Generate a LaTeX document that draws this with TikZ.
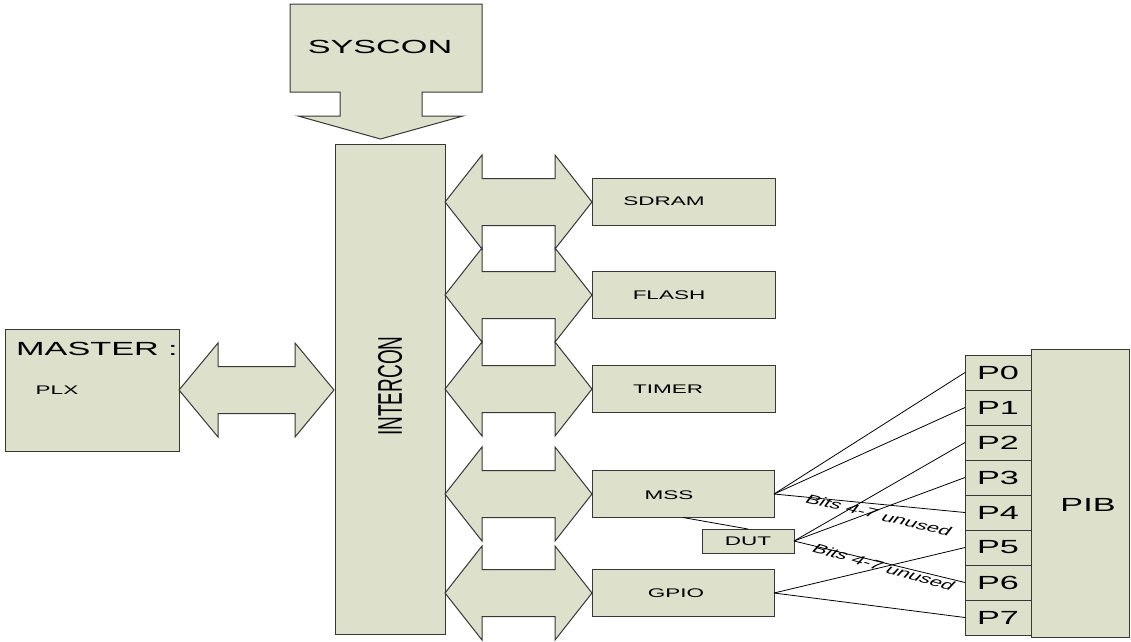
\documentclass[tikz,border=0pt]{standalone}
\usepackage{fontspec}
\usepackage{graphicx}
\setmainfont{Liberation Sans}
\newfontfamily\wf[FakeStretch=1.8]{Liberation Sans}
\definecolor{boxfill}{RGB}{221,224,203}
\definecolor{boxline}{RGB}{55,55,55}
\newcommand\dblArrowShape[4]{%
  \draw[box] (#1,#3) -- (#1+#4,#3-47) -- (#1+#4,#3-23.5) -- (#2-#4,#3-23.5) -- (#2-#4,#3-47)
    -- (#2,#3) -- (#2-#4,#3+47) -- (#2-#4,#3+23.5) -- (#1+#4,#3+23.5) -- (#1+#4,#3+47) -- cycle;}
\tikzset{
  box/.style={draw=boxline, fill=boxfill, line width=1pt, inner sep=0pt, outer sep=0pt, rectangle},
  big/.style={font=\wf\fontsize{19}{22}\selectfont, inner sep=0pt},
  small/.style={font=\wf\fontsize{12.5}{15}\selectfont, inner sep=0pt},
  wire/.style={black, line width=0.8pt},
}
\begin{document}
\begin{tikzpicture}[x=1pt,y=-1pt]
\useasboundingbox (0,0) rectangle (1131,641);

% SYSCON callout
\draw[box] (290,4) -- (482,4) -- (482,92) -- (422,92) -- (422,116) -- (463,116) -- (380.5,139)
  -- (298,116) -- (340,116) -- (340,92) -- (290,92) -- cycle;
\node[big] (syscon) at (380,47) {SYSCON};

% INTERCON
\node[box, minimum width=110, minimum height=490] (intercon) at (390,389) {};
\node[inner sep=0pt, font=\fontsize{19}{22}\selectfont] (intert) at (390,386)
  {\scalebox{1.8}[1]{\rotatebox{90}{INTERCON}}};

% MASTER
\node[box, minimum width=174, minimum height=122] (master) at (92,390) {};
\node[big] (mastert) at (97,349) {MASTER :};
\node[small] (plx) at (57,390) {PLX};
\dblArrowShape{179}{334}{390}{39}

% bus arrows
\dblArrowShape{445}{592}{202}{37}
\dblArrowShape{445}{592}{295}{37}
\dblArrowShape{445}{592}{389}{37}
\dblArrowShape{445}{592}{494}{37}
\dblArrowShape{445}{592}{593}{37}

% slaves
\node[box, minimum width=183, minimum height=47] (sdram) at (683.5,202) {};
\node[small] (sdramt) at (664,201) {SDRAM};
\node[box, minimum width=183, minimum height=47] (flash) at (683.5,295) {};
\node[small] (flasht) at (669,295) {FLASH};
\node[box, minimum width=183, minimum height=47] (timer) at (683.5,389) {};
\node[small] (timert) at (668,389) {TIMER};
\node[box, minimum width=182, minimum height=47] (mss) at (683,494) {};
\node[small] (msst) at (669,495) {MSS};
\node[box, minimum width=182, minimum height=47] (gpio) at (683,593) {};
\node[small] (gpiot) at (676,593) {GPIO};
\node[box, small, minimum width=92, minimum height=24] (dut) at (748,541) {DUT};

% PIB
\node[box, minimum width=98, minimum height=288] (pib) at (1080,493) {};
\node[big] (pibt) at (1088,505) {PIB};
\foreach \i in {0,...,7}
  \node[box, big, minimum width=66, minimum height=35] (p\i) at (998,372.5+35*\i) {P\i};

% wires
\draw[wire] (mss.east) -- (p0.west);
\draw[wire] (mss.east) -- (p1.west);
\draw[wire] (mss.east) -- (p4.west);
\draw[wire] (mss.south) -- (dut.north);
\draw[wire] (dut.east) -- (p2.west);
\draw[wire] (dut.east) -- (p3.west);
\draw[wire] (dut.east) -- (p6.west);
\draw[wire] (gpio.east) -- (p5.west);
\draw[wire] (gpio.east) -- (p7.west);

\node[inner sep=0pt, font=\fontsize{12.5}{15}\selectfont] (bits1) at (879,515)
  {\scalebox{1.8}[1]{\rotatebox{-23}{Bits 4-7 unused}}};
\node[inner sep=0pt, font=\fontsize{12.5}{15}\selectfont] (bits2) at (884,567)
  {\scalebox{1.8}[1]{\rotatebox{-27}{Bits 4-7 unused}}};
\end{tikzpicture}
\end{document}
